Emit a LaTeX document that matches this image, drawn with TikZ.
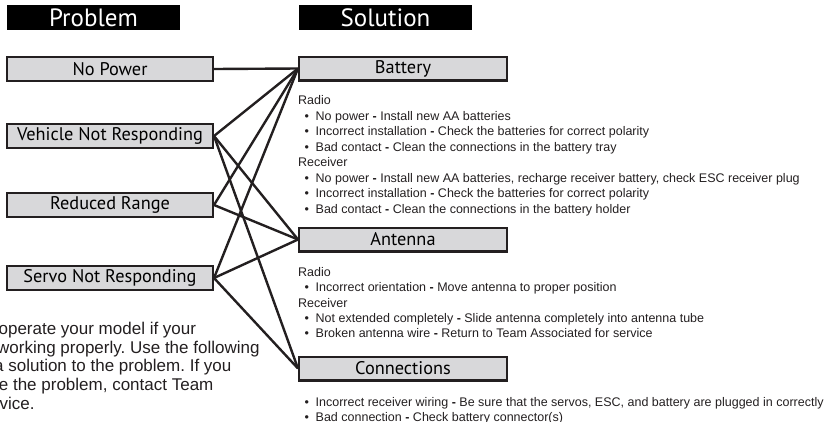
\documentclass[tikz,border=0pt]{standalone}
\usepackage{fontspec}
\setmainfont{Liberation Sans}
\newfontfamily\labelfont{PT Sans}
\definecolor{ink}{RGB}{35,31,32}
\definecolor{boxgray}{RGB}{216,216,218}
\newcommand{\itembul}{\hspace*{6.5pt}\makebox[11pt][l]{\textbullet}}
\newcommand{\sepdash}{\textbf{-}}
\frenchspacing
\begin{document}
\begin{tikzpicture}[x=1pt, y=-1pt,
  head/.style={fill=black, text=white, inner sep=0pt, minimum width=173pt, minimum height=25pt,
    font=\labelfont\fontsize{25}{25}\selectfont},
  probbox/.style={draw=ink, line width=2.4pt, fill=boxgray, inner sep=0pt, minimum width=205.6pt,
    minimum height=23.6pt, font=\labelfont\fontsize{18.3}{18.3}\selectfont},
  solbox/.style={probbox, minimum width=207.6pt},
  link/.style={line width=2.4pt, ink},
  txt/.style={anchor=base west, inner sep=0pt, text=ink, font=\fontsize{12.5}{15}\selectfont},
  para/.style={anchor=base west, inner sep=0pt, text=ink, font=\fontsize{17}{19}\selectfont}]
\useasboundingbox (0,0) rectangle (830,421);
\clip (0,0) rectangle (830,421);
\node[head] (probhead) at (93.5,17.5) {Problem};
\node[head] (solhead) at (385.5,17.5) {Solution};
\node[probbox] (nopower) at (110,69) {No Power};
\node[probbox] (vehicle) at (110,136) {Vehicle Not Responding};
\node[probbox] (range) at (110,205) {Reduced Range};
\node[probbox] (servo) at (110,278) {Servo Not Responding};
\node[solbox] (battery) at (403,68.5) {Battery};
\node[solbox] (antenna) at (403,239.5) {Antenna};
\node[solbox] (conn) at (403,368.5) {Connections};
\foreach \p/\s in {nopower/battery, vehicle/battery, vehicle/antenna, vehicle/conn,
    range/battery, range/antenna, servo/battery, servo/antenna, servo/conn}
  \draw[link] (\p.east) -- (\s.west);
% battery
\foreach \t [count=\i] in {Radio,
    {\itembul No power \sepdash{} Install new AA batteries},
    {\itembul Incorrect installation \sepdash{} Check the batteries for correct polarity},
    {\itembul Bad contact \sepdash{} Clean the connections in the battery tray},
    Receiver,
    {\itembul No power \sepdash{} Install new AA batteries, recharge receiver battery, check ESC receiver plug},
    {\itembul Incorrect installation \sepdash{} Check the batteries for correct polarity},
    {\itembul Bad contact \sepdash{} Clean the connections in the battery holder}}
  \node[txt] (battxt\i) at (298,{104.5+15.5*(\i-1)}) {\t};
% antenna
\foreach \t [count=\i] in {Radio,
    {\itembul Incorrect orientation \sepdash{} Move antenna to proper position},
    Receiver,
    {\itembul Not extended completely \sepdash{} Slide antenna completely into antenna tube},
    {\itembul Broken antenna wire \sepdash{} Return to Team Associated for service}}
  \node[txt] (anttxt\i) at (298,{276.5+15.3*(\i-1)}) {\t};
% connections
\node[txt] (conntxt1) at (298,406.5) {\itembul Incorrect receiver wiring \sepdash{} Be sure that the servos, ESC, and battery are plugged in correctly};
\node[txt] (conntxt2) at (298,421.5) {\itembul Bad connection \sepdash{} Check battery connector(s)};
% intro text, cut at the left edge
\node[para] (intro1) at (-1.6,334.3) {operate your model if your};
\node[para] (intro2) at (-3,353) {working properly. Use the following};
\node[para] (intro3) at (-6,371.7) {a solution to the problem. If you};
\node[para] (intro4) at (-1.3,390.4) {e the problem, contact Team};
\node[para] (intro5) at (-0.5,409) {vice.};
\end{tikzpicture}
\end{document}
